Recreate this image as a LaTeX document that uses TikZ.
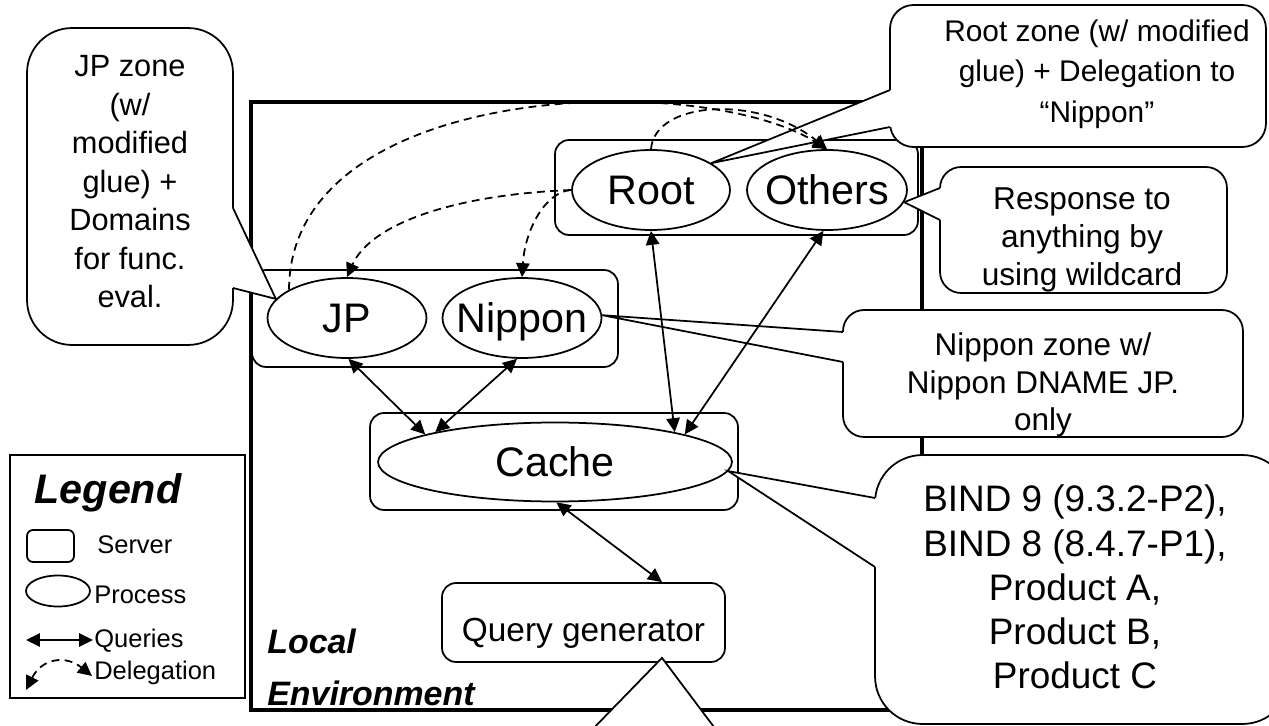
\documentclass[tikz,border=0pt]{standalone}
\usepackage{fontspec}
\setmainfont{Liberation Sans}
\usetikzlibrary{shapes.geometric,arrows.meta,calc}

\begin{document}
\begin{tikzpicture}[x=0.02cm, y=-0.02cm,
	proc/.style={ellipse, draw, line width=1pt, inner xsep=-0.25cm, inner ysep=0pt, text height=17pt, text depth=0pt, minimum width=3.18cm, minimum height=1.6cm, font=\fontsize{23.5}{28}\selectfont},
	server/.style={draw, rounded corners=0.28cm, line width=1pt, inner sep=0pt},
	callout/.style={draw, fill=white, line width=1pt, inner sep=0pt},
	calltext/.style={align=center, inner sep=0pt, font=\fontsize{17.5}{21.9}\selectfont},
	legtext/.style={anchor=west, inner sep=0pt, font=\fontsize{14.5}{17}\selectfont},
	query/.style={{Triangle[length=0.28cm,width=0.27cm]}-{Triangle[length=0.28cm,width=0.27cm]}, line width=1pt},
	deleg/.style={-{Triangle[length=0.28cm,width=0.27cm]}, line width=1pt, dash pattern=on 4.5pt off 3pt}]
	\useasboundingbox (0,0) rectangle (1269,726);
	\clip (0,0) rectangle (1269,726);
	% local environment frame
	\draw[line width=2pt] (251,102) rectangle (922,710);
	% the servers and processes
	\node[server, minimum width=7.26cm, minimum height=1.9cm] (srvroot) at (736.5,187.5) {};
	\node[server, minimum width=7.32cm, minimum height=1.94cm] (srvjp) at (435,318.5) {};
	\node[server, minimum width=7.36cm, minimum height=1.94cm] (srvcache) at (554,461.5) {};
	\node[server, minimum width=5.66cm, minimum height=1.58cm, text height=22pt, text depth=0pt, font=\fontsize{19}{23}\selectfont] (query) at (583.5,622.5) {Query generator};
	\node[proc, minimum width=3.16cm] (root) at (651,190) {Root};
	\node[proc, minimum width=3.2cm] (others) at (827,190) {Others};
	\node[proc] (jp) at (347,318) {JP};
	\node[proc] (nippon) at (522,318) {Nippon};
	\node[proc, minimum width=7.08cm, minimum height=1.58cm] (cache) at (555,462) {Cache};
	% callouts
	\node[callout, rounded corners=0.9cm, minimum width=4.12cm, minimum height=6.34cm] (cjp) at (130,186.5) {};
	\coordinate (jpb1) at (233,208);
	\coordinate (jpb2) at (233,288);
	\fill[white] (jpb1) -- (jp.165) -- (jpb2) -- ([xshift=-0.1cm]jpb2) -- ([xshift=-0.1cm]jpb1) -- cycle;
	\draw[line width=1pt] (jpb1) -- (jp.165) -- (jpb2);
	\node[calltext] (tjp) at (130,182) {JP zone\\(w/\\modified\\glue) +\\Domains\\for func.\\eval.};

	\node[callout, rounded corners=0.47cm, minimum width=7.52cm, minimum height=2.84cm] (croot) at (1078,76) {};
	\coordinate (rootb1) at (890,90);
	\coordinate (rootb2) at (890,127);
	\fill[white] (rootb1) -- (root.24) -- (rootb2) -- ([xshift=0.1cm]rootb2) -- ([xshift=0.1cm]rootb1) -- cycle;
	\draw[line width=1pt] (rootb1) -- (root.24) -- (rootb2);
	\node[calltext, font=\fontsize{17}{23}\selectfont] (troot) at (1097,74) {Root zone (w/ modified\\glue) + Delegation to\\``Nippon''};

	\node[callout, rounded corners=0.42cm, minimum width=5.74cm, minimum height=2.52cm] (cresp) at (1083.5,230) {};
	\coordinate (respb1) at (940,188);
	\coordinate (respb2) at (940,220);
	\fill[white] (respb1) -- (others.-9) -- (respb2) -- ([xshift=0.1cm]respb2) -- ([xshift=0.1cm]respb1) -- cycle;
	\draw[line width=1pt] (respb1) -- (others.-9) -- (respb2);
	\node[calltext, font=\fontsize{18}{21.7}\selectfont] (tresp) at (1082,240) {Response to\\anything by\\using wildcard};

	\node[callout, rounded corners=0.42cm, minimum width=8cm, minimum height=2.54cm] (cnippon) at (1043,373.5) {};
	\coordinate (nipb1) at (843,332);
	\coordinate (nipb2) at (843,362);
	\fill[white] (nipb1) -- (nippon.2) -- (nipb2) -- ([xshift=0.1cm]nipb2) -- ([xshift=0.1cm]nipb1) -- cycle;
	\draw[line width=1pt] (nipb1) -- (nippon.2) -- (nipb2);
	\node[calltext, font=\fontsize{17.9}{21.5}\selectfont] (tnippon) at (1043,385) {Nippon zone w/\\Nippon DNAME JP.\\only};

	\node[callout, rounded corners=0.95cm, minimum width=8.3cm, minimum height=5.38cm] (cbind) at (1082.5,589.5) {};
	\coordinate (bindb1) at (875,498);
	\coordinate (bindb2) at (875,567);
	\fill[white] (bindb1) -- (cache.-3) -- (bindb2) -- ([xshift=0.1cm]bindb2) -- ([xshift=0.1cm]bindb1) -- cycle;
	\draw[line width=1pt] (bindb1) -- (cache.-3) -- (bindb2);
	\node[calltext, font=\fontsize{21}{25.1}\selectfont] (tbind) at (1075,587) {BIND 9 (9.3.2-P2),\\BIND 8 (8.4.7-P1),\\Product A,\\Product B,\\Product C};

	\coordinate (qtip) at ([xshift=1.57cm,yshift=0.1cm]query.south);
	\coordinate (qb1) at (587,735);
	\coordinate (qb2) at (720,735);
	\fill[white] (qb1) -- (qtip) -- (qb2) -- cycle;
	\draw[line width=1pt] (qb1) -- (qtip) -- (qb2);
	% queries
	\draw[query] (jp.-88) -- (cache.168);
	\draw[query] (nippon.-97) -- (cache.166);
	\draw[query] (root.south) -- (cache.14);
	\draw[query] (others.-95) -- (cache.12);
	\draw[query] (cache.-88) -- ([xshift=1.57cm]query.north);
	% delegations
	\draw[deleg] (root.north) .. controls (655,100) and (760,95) .. (others.north);
	\draw[deleg] (jp.154) .. controls (290,80) and (700,70) .. (others.north);
	\draw[deleg] (root.west) .. controls (450,195) and (370,225) .. (jp.north);
	\draw[deleg] (root.west) .. controls (545,192) and (525,230) .. (nippon.north);
	% legend
	\draw[line width=1.3pt] (10,455) rectangle (245,698);
	\node[inner sep=0pt, font=\bfseries\itshape\fontsize{23.5}{28}\selectfont] (legtitle) at (108,493) {Legend};
	\node[draw, rounded corners=0.12cm, minimum width=0.94cm, minimum height=0.64cm, line width=1pt] (legsrv) at (50.5,546) {};
	\node[legtext] (legsrvtext) at (97,545) {Server};
	\node[ellipse, draw, minimum width=1.28cm, minimum height=0.62cm, line width=1pt] (legproc) at (58,591) {};
	\node[legtext] (legproctext) at (94,595) {Process};
	\coordinate (legq1) at (26,640);
	\coordinate (legq2) at (93,640);
	\draw[query] (legq1) -- (legq2);
	\node[legtext] (legqtext) at (94,641) {Queries};
	\coordinate (legd1) at (26,690);
	\coordinate (legd2) at (92,676);
	\draw[deleg, {Triangle[length=0.28cm,width=0.27cm]}-{Triangle[length=0.28cm,width=0.27cm]}] (legd1) .. controls (42,658) and (66,655) .. (legd2);
	\node[legtext] (legdtext) at (94,673) {Delegation};
	% label of the frame
	\node[anchor=west, align=left, inner sep=0pt, font=\bfseries\itshape\fontsize{19.3}{29.5}\selectfont] (localenv) at (267,667) {Local\\Environment};
\end{tikzpicture}
\end{document}
